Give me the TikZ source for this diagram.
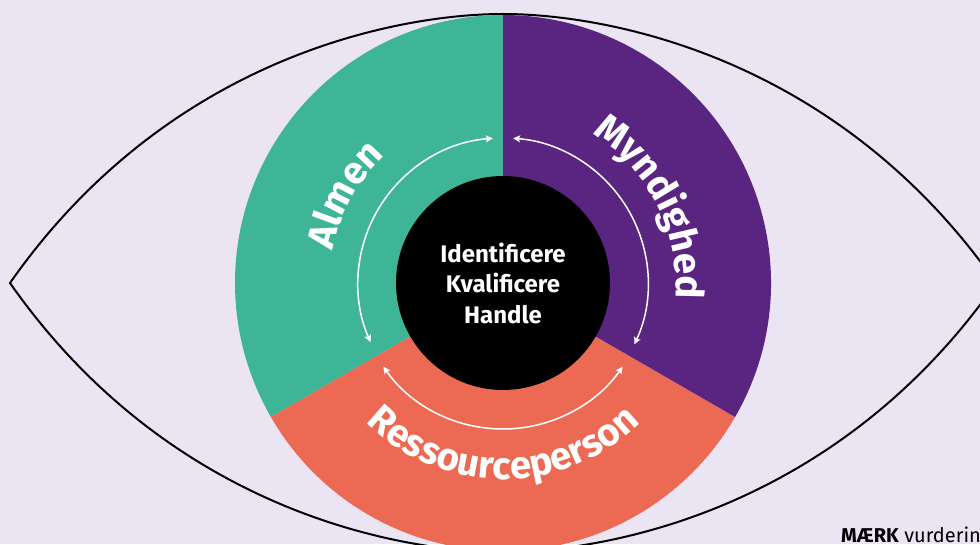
\documentclass[tikz,border=0pt]{standalone}
\usepackage{fontspec}
\setmainfont{Fira Sans}
\usetikzlibrary{decorations.text,arrows.meta}
\definecolor{bgl}{HTML}{EBE4F3}
\definecolor{tealc}{HTML}{3FB597}
\definecolor{purpc}{HTML}{5A2581}
\definecolor{orac}{HTML}{EC6A54}
\newcommand{\ringfont}{\bfseries\fontsize{38.5}{40}\selectfont}
\begin{document}
\begin{tikzpicture}[x=1pt,y=1pt,
  cyc/.style={white, line width=1.5pt, {Stealth[length=7pt,width=7pt,inset=1.5pt]}-{Stealth[length=7pt,width=7pt,inset=1.5pt]}},
  eye/.style={black, line width=2pt},
  core/.style={circle, fill=black, minimum size=214pt, inner sep=0pt, text=white, align=center,
    font=\bfseries\fontsize{24}{30.5}\selectfont}
]
\fill[bgl] (0,0) rectangle (980,544);
\useasboundingbox (0,0) rectangle (980,544);
\clip (0,0) rectangle (980,544);
\coordinate (c) at (503,261);
\coordinate (tipL) at (10,261);
\coordinate (tipR) at (996,261);
\coordinate (top) at (503,530);
\coordinate (bot) at (503,-8);
% eye outline
\draw[eye] (tipL) .. controls (170.6,490.4) and (403,530) .. (top)
  .. controls (603,530) and (835.4,490.4) .. (tipR)
  .. controls (835.4,31.6) and (603,-8) .. (bot)
  .. controls (403,-8) and (170.6,31.6) .. (tipL) -- cycle;
% sectors
\fill[tealc] (c) -- ++(90:268) arc[start angle=90,end angle=210,radius=268] -- cycle;
\fill[orac] (c) -- ++(210:268) arc[start angle=210,end angle=330,radius=268] -- cycle;
\fill[purpc] (c) -- ++(-30:268) arc[start angle=-30,end angle=90,radius=268] -- cycle;
% cycle arrows
\draw[cyc] ([shift={(94:145)}]c) arc[start angle=94,end angle=204,radius=145];
\draw[cyc] ([shift={(215:146)}]c) arc[start angle=215,end angle=325,radius=146];
\draw[cyc] ([shift={(-25:145)}]c) arc[start angle=-25,end angle=86,radius=145];
% ring labels
\path[decorate, decoration={text along path, text align=center, text color=white,
  text={|\ringfont|Almen}}] ([shift={(176:173)}]c) arc[start angle=176,end angle=126,radius=173];
\path[decorate, decoration={text along path, text align=center, text color=white,
  text={|\ringfont|Myndighed}}] ([shift={(72:173)}]c) arc[start angle=72,end angle=-18,radius=173];
\path[decorate, decoration={text along path, text align=center, text color=white,
  text={|\ringfont|Ressourceperson}}] ([shift={(200:196)}]c) arc[start angle=200,end angle=340,radius=196];
% core
\node[core] (centre) at (c) {Identificere\\Kvalificere\\Handle};
% footer
\node[anchor=base west, inner sep=0pt, font=\fontsize{20}{22}\selectfont] (brand) at (841,2) {\textbf{MÆRK} vurdering};
\end{tikzpicture}
\end{document}
